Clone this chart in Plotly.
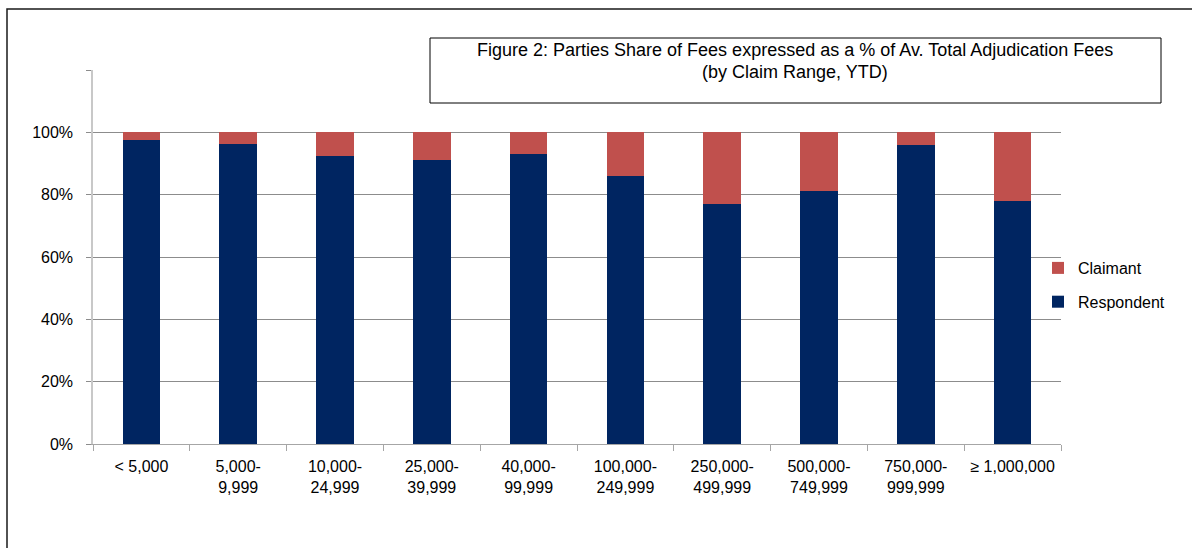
import plotly.graph_objects as go

categories = ["< 5,000", "5,000-<br>9,999", "10,000-<br>24,999", "25,000-<br>39,999",
              "40,000-<br>99,999", "100,000-<br>249,999", "250,000-<br>499,999",
              "500,000-<br>749,999", "750,000-<br>999,999", "≥ 1,000,000"]
respondent = [0.977, 0.962, 0.923, 0.912, 0.929, 0.861, 0.769, 0.813, 0.959, 0.779]
claimant = [round(1 - r, 3) for r in respondent]
y_tickvals = [0, 0.2, 0.4, 0.6, 0.8, 1.0, 1.2]
y_ticktext = ["0%", "20%", "40%", "60%", "80%", "100%", ""]
title_lines = ["Figure 2: Parties Share of Fees expressed as a % of Av. Total Adjudication Fees",
               "(by Claim Range, YTD)"]

W, H = 1192, 548
L, R, T, B = 93, 1061, 70, 444


def px_x(p):
    return (p - L) / (R - L)


def px_y(p):
    return (B - p) / (B - T)


FONT = "Liberation Sans, Arial, sans-serif"

fig = go.Figure()
fig.add_trace(go.Bar(x=categories, y=respondent, name="Respondent",
                     marker=dict(color="#002561", line=dict(width=0)),
                     legendgroup="r", legendrank=2))
fig.add_trace(go.Bar(x=categories, y=claimant, name="Claimant",
                     marker=dict(color="#C0504D", line=dict(width=0)),
                     legendgroup="c", legendrank=1))

fig.update_layout(
    width=W, height=H,
    margin=dict(l=L, r=W - R, t=T, b=H - B, pad=0),
    barmode="stack", bargap=0.61,
    paper_bgcolor="white", plot_bgcolor="white",
    font=dict(family=FONT, size=16, color="#000000"),
    legend=dict(x=px_x(1038), xanchor="left", y=px_y(285), yanchor="middle",
                traceorder="grouped", tracegroupgap=10,
                font=dict(size=16), bgcolor="rgba(0,0,0,0)"),
    xaxis=dict(showline=True, linecolor="#a6a6a6", linewidth=1,
               ticks="outside", tickson="boundaries", ticklen=6, tickcolor="#a6a6a6",
               showgrid=False, tickfont=dict(size=16), ticklabelstandoff=8,
               fixedrange=True),
    yaxis=dict(range=[0, 1.2], tickvals=y_tickvals, ticktext=y_ticktext,
               showgrid=True, gridcolor="#8c8c8c", gridwidth=1,
               showline=True, linecolor="#c8c8c8", linewidth=1.5,
               ticks="outside", ticklen=5, tickcolor="#8c8c8c",
               tickfont=dict(size=16), ticklabelstandoff=10, zeroline=False,
               fixedrange=True),
)

# title box
fig.add_shape(type="rect", xref="paper", yref="paper",
              x0=px_x(430), x1=px_x(1161), y0=px_y(103), y1=px_y(38),
              line=dict(color="#000000", width=1), fillcolor="white", layer="above")
for line_text, yc in zip(title_lines, [50.5, 71.5]):
    fig.add_annotation(xref="paper", yref="paper", x=px_x(795), y=px_y(yc),
                       xanchor="center", yanchor="middle", showarrow=False, align="center",
                       text=line_text, borderpad=0,
                       font=dict(size=18, family=FONT, color="#000000"))
# outer border
fig.add_shape(type="rect", xref="paper", yref="paper",
              x0=px_x(7), x1=px_x(1300), y0=px_y(700), y1=px_y(9),
              line=dict(color="#1a1a1a", width=1.5), fillcolor="rgba(0,0,0,0)", layer="above")

fig.write_html("out.html", config={"displayModeBar": False},
               post_script="document.body.style.margin='0px';")
